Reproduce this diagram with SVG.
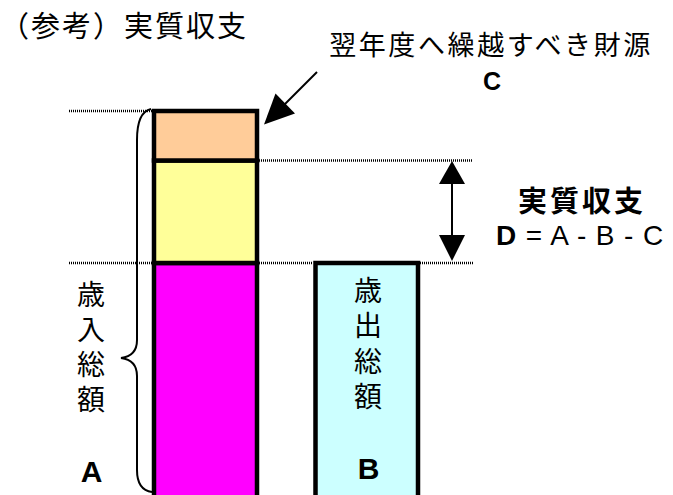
<svg xmlns="http://www.w3.org/2000/svg" width="673" height="495" viewBox="0 0 673 495">
<style>
.jp{font-family:"Noto Sans CJK JP","Noto Sans CJK SC",sans-serif;fill:#000}
.lat{font-family:"Liberation Sans",Arial,sans-serif;fill:#000}
.bar{stroke:#000;stroke-width:4.5}
.dot{stroke:#000;stroke-width:2.5;stroke-dasharray:1 1;fill:none}
.ln{stroke:#000;fill:none}
.v{font-size:28px;writing-mode:vertical-rl;letter-spacing:7px}
</style>
<rect width="673" height="495" fill="#fff"/>
<g id="title"><text class="jp" x="0" y="37" font-size="29" letter-spacing="2">（参考）実質収支</text></g>
<g id="connectors">
<line class="dot" x1="69" y1="111" x2="152" y2="111"/>
<line class="dot" x1="259" y1="160.5" x2="473" y2="160.5"/>
<line class="dot" x1="69" y1="263" x2="152" y2="263"/>
<line class="dot" x1="259" y1="263" x2="313" y2="263"/>
<line class="dot" x1="420" y1="263" x2="473" y2="263"/>
<line class="ln" x1="317" y1="72" x2="284" y2="105" stroke-width="2"/>
<polygon points="264,124.5 295,113.4 275.5,93.6" fill="#000"/>
<line class="ln" x1="452" y1="182" x2="452" y2="237" stroke-width="2"/>
<polygon points="452,161 439,184 465,184" fill="#000"/>
<polygon points="452,261 439,235 465,235" fill="#000"/>
<path class="ln" stroke-width="2" d="M151,109 Q137,112 137,140 L137,340 Q137,356 121,358 Q137,360 137,376 L137,470 Q137,490 152,492"/>
</g>
<g id="revenue">
<rect x="154" y="263" width="103" height="240" fill="#FF00FF" class="bar"/>
<rect x="154" y="160.5" width="103" height="102.5" fill="#FFFF99" class="bar"/>
<rect x="154" y="111" width="103" height="49.5" fill="#FFCC99" class="bar"/>
</g>
<g id="expenditure">
<rect x="315.5" y="263" width="102.5" height="240" fill="#CCFFFF" class="bar"/>
<text class="jp v" x="368" y="276" style="letter-spacing:7.5px">歳出総額</text>
<text class="lat" x="368.5" y="479" font-size="30" font-weight="bold" text-anchor="middle">B</text>
</g>
<g id="revenue-label">
<text class="jp v" x="91" y="280">歳入総額</text>
<text class="lat" x="91.5" y="482" font-size="30" font-weight="bold" text-anchor="middle">A</text>
</g>
<g id="carryover-label">
<text class="jp" x="491" y="55" font-size="27" letter-spacing="2.6" text-anchor="middle">翌年度へ繰越すべき財源</text>
<text class="lat" x="492" y="90" font-size="25" font-weight="bold" text-anchor="middle">C</text>
</g>
<g id="balance-label">
<text class="jp" x="582" y="212" font-size="29" font-weight="bold" letter-spacing="3" text-anchor="middle">実質収支</text>
<text class="lat" x="496" y="245" font-size="28" letter-spacing="0.9"><tspan font-weight="bold">D</tspan> = A - B - C</text>
</g>
</svg>
